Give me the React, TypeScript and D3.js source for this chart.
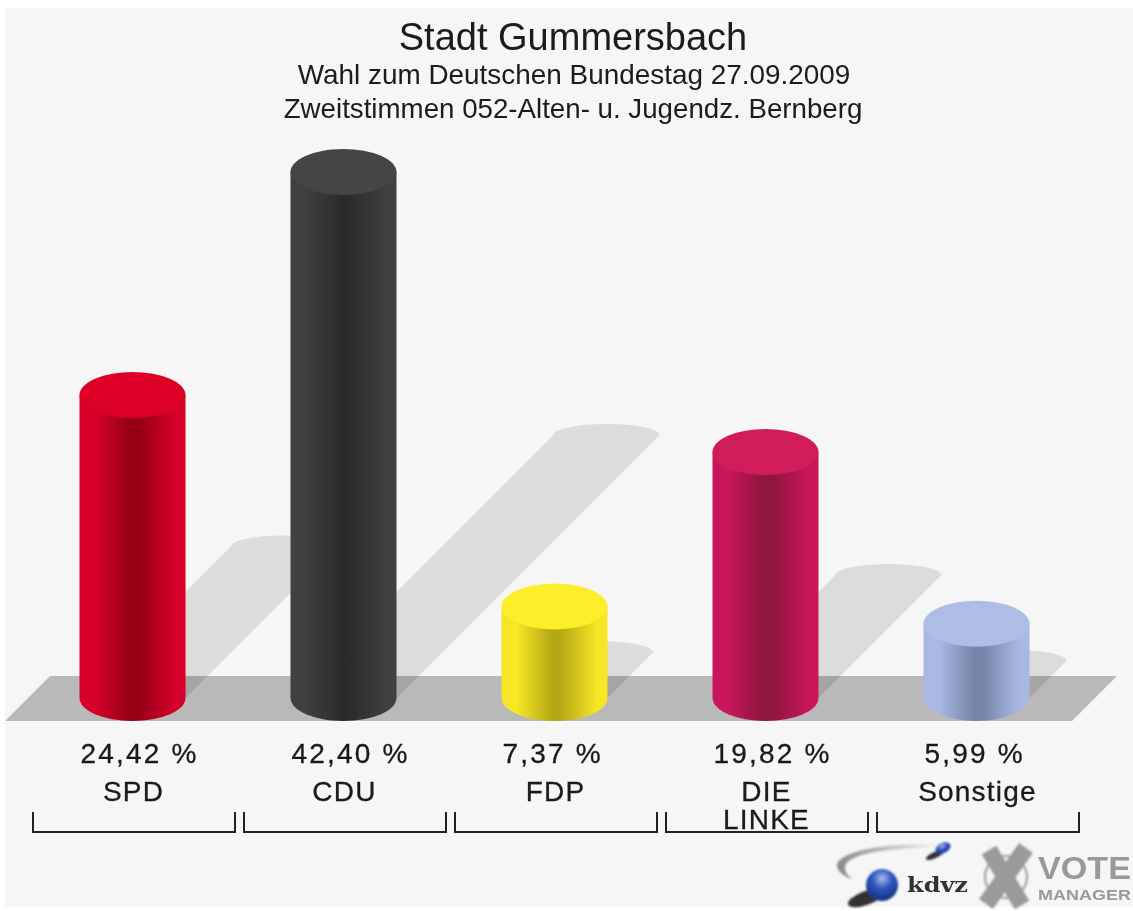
import React from "react";
import * as d3 from "d3";

const parties = ["SPD", "CDU", "FDP", "DIE LINKE", "Sonstige"];
const shares = [24.42, 42.4, 7.37, 19.82, 5.99];
const shareLabels = ["24,42 %", "42,40 %", "7,37 %", "19,82 %", "5,99 %"];
const mainColors = ["#d7002a", "#3f3f3f", "#f6e626", "#c9195a", "#a8b8e2"];
const darkColors = ["#960018", "#2c2c2c", "#b5a815", "#8e1240", "#7686a8"];
const topColors = ["#dc0028", "#454545", "#fdee2a", "#d11c5c", "#adbde6"];
const titleLines = ["Stadt Gummersbach", "Wahl zum Deutschen Bundestag 27.09.2009", "Zweitstimmen 052-Alten- u. Jugendz. Bernberg"];

const W = 1133, H = 911;
const BASE = 698, RX = 53, RY = 23;
const x = d3.scaleBand<number>().domain(d3.range(5)).range([27, 1082]);
const y = d3.scaleLinear().domain([0, 42.4]).range([BASE, 172]);
const FONT = "Arial, 'Liberation Sans', sans-serif";

export default function App() {
  const line = d3.line();
  return (
    <svg width={W} height={H} viewBox={`0 0 ${W} ${H}`} style={{ position: "absolute", left: 0, top: 0, background: "#fff" }}>
      <defs>
        <filter id="soft" x="-5%" y="-5%" width="110%" height="110%"><feGaussianBlur stdDeviation="0.6" /></filter>
        <filter id="soft2" x="-20%" y="-20%" width="140%" height="140%"><feGaussianBlur stdDeviation="1.2" /></filter>
        <filter id="edge" x="-5%" y="-5%" width="110%" height="110%"><feGaussianBlur stdDeviation="0.5" /></filter>
        {parties.map((_, i) => (
          <linearGradient key={i} id={`g${i}`} x1="0" x2="1" y1="0" y2="0">
            <stop offset="0" stopColor={mainColors[i]} />
            <stop offset="0.15" stopColor={mainColors[i]} />
            <stop offset="0.47" stopColor={darkColors[i]} />
            <stop offset="0.56" stopColor={darkColors[i]} />
            <stop offset="0.9" stopColor={mainColors[i]} />
            <stop offset="1" stopColor={mainColors[i]} />
          </linearGradient>
        ))}
        <radialGradient id="ball" cx="0.5" cy="0.3" r="0.7">
          <stop offset="0" stopColor="#a9bce8" />
          <stop offset="0.45" stopColor="#2f55c0" />
          <stop offset="1" stopColor="#14307f" />
        </radialGradient>
        <linearGradient id="swoosh" x1="0" x2="1" y1="0" y2="0">
          <stop offset="0" stopColor="#8a8a8a" />
          <stop offset="1" stopColor="#8a8a8a" stopOpacity="0" />
        </linearGradient>
      </defs>
      <rect x={5} y={8} width={W - 5} height={899} fill="#f6f6f7" />

      <g filter="url(#edge)">
        <path d={line([[5, 721], [50, 676], [1117, 676], [1072, 721]])!} fill="#b9b9b9" />

        {shares.map((v, i) => {
          const cx = x(i)! + x.bandwidth() / 2;
          const len = (BASE - y(v)) / 2;
          const sx = cx + len, sy = BASE - len;
          const d = `M${cx - RX},${BASE} L${sx - RX},${sy} A${RX},11 0 0 1 ${sx + RX},${sy} L${cx + RX},${BASE} Z`;
          return <path key={i} d={d} fill="#000" opacity={0.105} />;
        })}

        {shares.map((v, i) => {
          const cx = x(i)! + x.bandwidth() / 2;
          const top = y(v);
          const body = `M${cx - RX},${top} L${cx - RX},${BASE} A${RX},${RY} 0 0 0 ${cx + RX},${BASE} L${cx + RX},${top} Z`;
          return (
            <g key={i}>
              <path d={body} fill={`url(#g${i})`} />
              <ellipse cx={cx} cy={top} rx={RX} ry={RY} fill={topColors[i]} />
            </g>
          );
        })}
      </g>

      <g filter="url(#soft)" fontFamily={FONT} fill="#1a1a1a" textAnchor="middle">
        <text x={573} y={49.5} fontSize={38}>{titleLines[0]}</text>
        <text x={574} y={84} fontSize={27.9}>{titleLines[1]}</text>
        <text x={573} y={118} fontSize={27.7}>{titleLines[2]}</text>

        {shareLabels.map((t, i) => (
          <text key={t} x={x(i)! + x.bandwidth() / 2 - 52} y={763} fontSize={28} letterSpacing={2.2} textAnchor="start" stroke="#1a1a1a" strokeWidth={0.3}>{t}</text>
        ))}
        {parties.map((p, i) => {
          const cx = x(i)! + x.bandwidth() / 2 + 1;
          const parts = p === "DIE LINKE" ? ["DIE", "LINKE"] : [p];
          return parts.map((s, j) => (
            <text key={s} x={cx} y={801 + j * 28} fontSize={28} letterSpacing={1.2} stroke="#1a1a1a" strokeWidth={0.3}>{s}</text>
          ));
        })}
      </g>

      <g filter="url(#soft)" fill="none" stroke="#222" strokeWidth={2}>
        {parties.map((_, i) => {
          const l = 33 + i * 211;
          return <path key={i} d={line([[l, 812], [l, 832], [l + 202, 832], [l + 202, 812]])!} />;
        })}
      </g>

      <g filter="url(#soft2)">
        <path d="M940,845 C895,843 850,848 838,862 C834,868 842,876 852,879 C844,872 842,866 850,860 C865,851 900,848 940,847 Z" fill="url(#swoosh)" />
        <ellipse cx={935} cy={855} rx={10} ry={3} fill="#333" transform="rotate(-25 935 855)" />
        <ellipse cx={943} cy={848} rx={8} ry={5} fill="url(#ball)" transform="rotate(-25 943 848)" />
        <ellipse cx={866} cy={898} rx={19} ry={7} fill="#333" transform="rotate(-20 866 898)" />
        <circle cx={882} cy={885} r={16} fill="url(#ball)" />
        <g stroke="#9a9a9a" fill="none">
          <circle cx={1006} cy={877} r={21} strokeWidth={2} />
          <line x1={989} y1={850} x2={1022} y2={905} strokeWidth={17} />
          <line x1={1026} y1={848} x2={986} y2={904} strokeWidth={17} />
        </g>
      </g>
      <g filter="url(#soft)" fontFamily={FONT} fontWeight={700}>
        <text x={907} y={892} fontSize={21} fontFamily="'DejaVu Serif', serif" fill="#333" textLength={61} lengthAdjust="spacingAndGlyphs">kdvz</text>
        <text x={1038} y={879} fontSize={32} fill="#999" textLength={93} lengthAdjust="spacingAndGlyphs">VOTE</text>
        <text x={1038} y={899.5} fontSize={15.5} fill="#999" textLength={93} lengthAdjust="spacingAndGlyphs">MANAGER</text>
      </g>
    </svg>
  );
}
